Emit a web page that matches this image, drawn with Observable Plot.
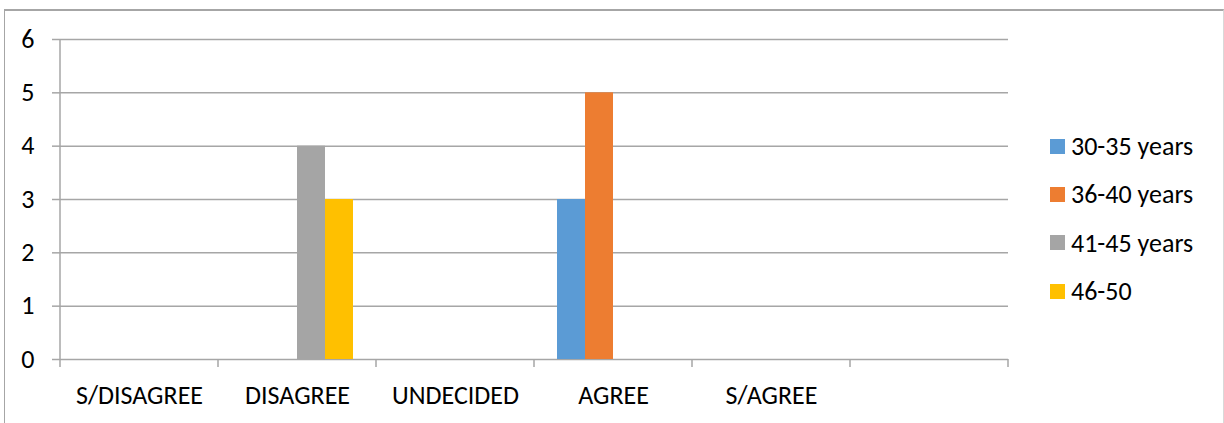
<!DOCTYPE html>
<html>
<head>
<meta charset="utf-8">
<script src="https://cdn.jsdelivr.net/npm/d3@7"></script>
<script src="https://cdn.jsdelivr.net/npm/@observablehq/plot@0.6"></script>
<style>
  body { margin: 0; background: #fff; font-family: Calibri, Carlito, "Open Sans", sans-serif; }
  #chart { position: relative; width: 1224px; height: 423px; overflow: hidden; }
  #border {
    position: absolute; left: 4px; top: 9px; width: 1220px; height: 440px;
    border-top: 2px solid #a6a6a6; border-left: 1px solid #a6a6a6; border-right: 1px solid #d9d9d9;
    box-sizing: border-box; pointer-events: none;
  }
  #plot { position: absolute; left: 0; top: 0; }
  #legend { position: absolute; left: 1050px; top: 122px; }
  .item { display: flex; align-items: center; height: 48.3px; font-size: 26px; color: #000; white-space: nowrap; }
  .sw { width: 15px; height: 15px; margin-right: 6px; flex: none; }
</style>
</head>
<body>
<div id="chart">
  <div id="border"></div>
  <div id="plot"></div>
  <div id="legend"></div>
</div>
<script>
// Response categories (the last slot is an empty category on the axis)
const categories = ["S/DISAGREE", "DISAGREE", "UNDECIDED", "AGREE", "S/AGREE", ""];
// Age groups
const series = ["30-35 years", "36-40 years", "41-45 years", "46-50"];
const colors = ["#5B9BD5", "#ED7D31", "#A5A5A5", "#FFC000"];
// Counts per category, one array per age group
const age30to35 = [0, 0, 0, 3, 0];
const age36to40 = [0, 0, 0, 5, 0];
const age41to45 = [0, 4, 0, 0, 0];
const age46to50 = [0, 3, 0, 0, 0];
const yTicks = [0, 1, 2, 3, 4, 5, 6];

const seriesValues = [age30to35, age36to40, age41to45, age46to50];
const rows = categories.flatMap((c, i) =>
  series.map((s, j) => ({ category: c, series: s, value: seriesValues[j][i] ?? 0 }))
);

const grid = "#a6a6a6";
const font = 'Calibri, Carlito, "Open Sans", sans-serif';

const chart = Plot.plot({
  width: 1224,
  height: 423,
  marginLeft: 60,
  marginRight: 216,
  marginTop: 39,
  marginBottom: 64,
  style: { fontFamily: font, fontSize: "26px", color: "#000", background: "transparent", overflow: "visible" },
  fx: { domain: categories, padding: 0, label: null, axis: null },
  x: { domain: series, paddingInner: 0, paddingOuter: 0.75, axis: null },
  y: { domain: [0, 6], axis: null },
  color: { domain: series, range: colors },
  marks: [
    Plot.ruleY(yTicks, { stroke: grid, strokeWidth: 1.5 }),
    Plot.barY(rows, { fx: "category", x: "series", y: "value", fill: "series" }),
    Plot.axisY(yTicks, { tickSize: 8, tickPadding: 18, tickFormat: (d) => String(d), stroke: grid, strokeWidth: 1.5, label: null, fill: "#000" }),
    Plot.axisFx({ anchor: "bottom", tickSize: 0, tickPadding: 26, label: null, fill: "#000" })
  ]
});
document.getElementById("plot").appendChild(chart);

// Value axis line and category boundary ticks, placed with the chart's own scales
const fx = chart.scale("fx");
const y = chart.scale("y");
const svg = d3.select(chart.tagName.toLowerCase() === "svg" ? chart : chart.querySelector("svg"));
const g = svg.append("g").attr("stroke", grid).attr("stroke-width", 1.5);
const bounds = categories.map((c) => fx.apply(c));
bounds.push(fx.apply(categories[categories.length - 1]) + fx.bandwidth);
const y0 = y.apply(0);
bounds.forEach((bx) => {
  g.append("line").attr("x1", bx).attr("x2", bx).attr("y1", y0).attr("y2", y0 + 8);
});
g.append("line").attr("x1", bounds[0]).attr("x2", bounds[0]).attr("y1", y.apply(6)).attr("y2", y0);

// Legend
const legend = d3.select("#legend");
series.forEach((s, i) => {
  const item = legend.append("div").attr("class", "item");
  item.append("div").attr("class", "sw").style("background", colors[i]);
  item.append("span").text(s);
});
</script>
</body>
</html>
